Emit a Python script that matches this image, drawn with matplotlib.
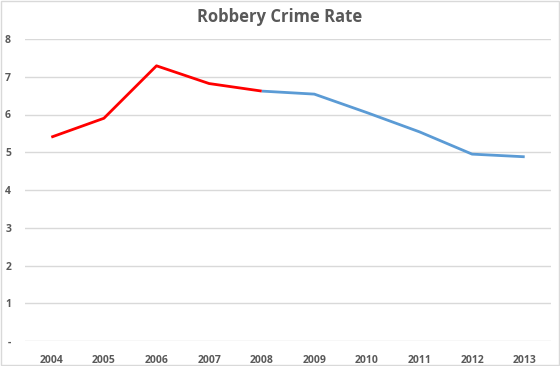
import matplotlib.pyplot as plt

years = ['2004', '2005', '2006', '2007', '2008', '2009', '2010', '2011', '2012', '2013']
rates = [5.40, 5.90, 7.29, 6.82, 6.62, 6.54, 6.05, 5.54, 4.95, 4.88]
split = 4  # red up to 2008, blue after

plt.rcParams['font.family'] = ['Open Sans', 'DejaVu Sans']

fig = plt.figure(figsize=(5.6, 3.66), dpi=100)
ax = fig.add_axes([25 / 560, 1 - 341 / 366, 526 / 560, 302 / 366])

x = list(range(len(years)))
ax.plot(x[split:], rates[split:], color='#5b9bd5', linewidth=2, solid_capstyle='butt')
ax.plot(x[:split + 1], rates[:split + 1], color='#ff0000', linewidth=2, solid_capstyle='butt')

ax.set_xlim(-0.5, len(years) - 0.5)
ax.set_ylim(0, 8)
ax.set_xticks(x)
ax.set_xticklabels(years)
ax.set_yticks(range(9))
ax.set_yticklabels(['-'] + [str(i) for i in range(1, 9)])
ax.tick_params(length=0, labelsize=7.5, labelcolor='#595959', pad=10)
for lab in ax.get_xticklabels() + ax.get_yticklabels():
    lab.set_fontweight('bold')
ax.yaxis.grid(True, color='#d9d9d9', linewidth=1)
ax.set_axisbelow(True)
for s in ax.spines.values():
    s.set_visible(False)

fig.text(0.5, 1 - 17 / 366, 'Robbery Crime Rate', ha='center', va='center',
         fontsize=12, fontweight='bold', color='#595959')
fig.patches.append(plt.Rectangle((0.001, 0.002), 0.997, 0.995, transform=fig.transFigure,
                                 fill=False, edgecolor='#d9d9d9', linewidth=1))

fig.savefig('out.png', dpi=100)
